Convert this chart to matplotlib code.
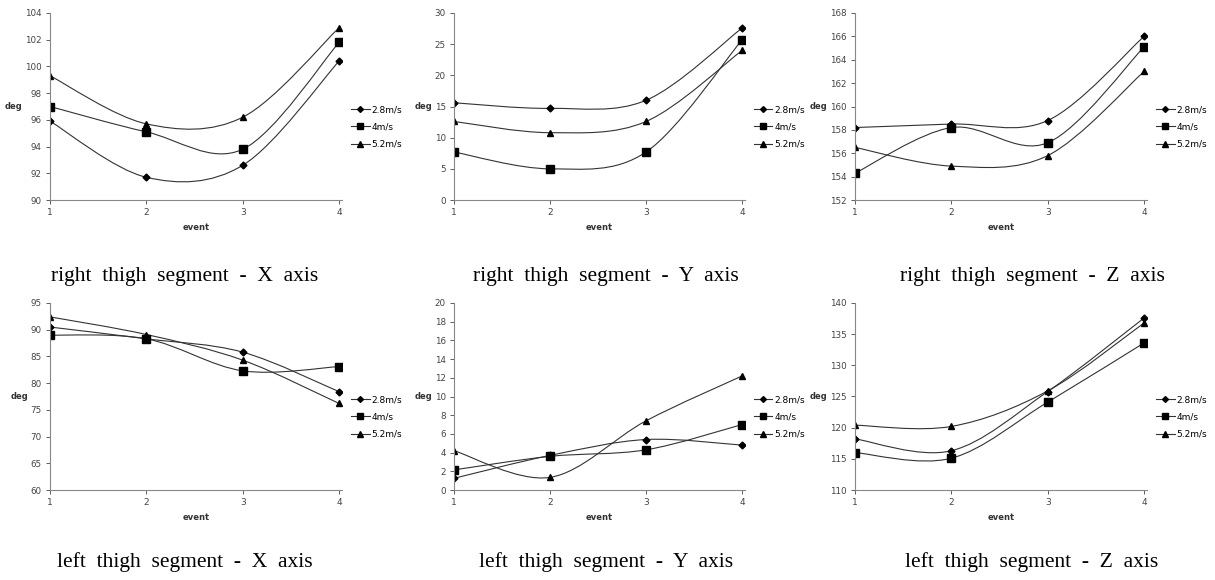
import numpy as np
import matplotlib
matplotlib.use('Agg')
import matplotlib.pyplot as plt
from matplotlib.path import Path
from matplotlib.patches import PathPatch
from matplotlib.lines import Line2D

events = [1, 2, 3, 4]
speeds = ['2.8m/s', '4m/s', '5.2m/s']
markers = ['D', 's', '^']
msizes = [3.5, 5.5, 5]

# right thigh
rx = [[95.9, 91.7, 92.6, 100.4], [97.0, 95.1, 93.8, 101.8], [99.3, 95.7, 96.2, 102.9]]
ry = [[15.6, 14.7, 16.0, 27.6], [7.7, 5.0, 7.7, 25.7], [12.6, 10.8, 12.6, 24.0]]
rz = [[158.2, 158.5, 158.8, 166.0], [154.3, 158.2, 156.9, 165.1], [156.5, 154.9, 155.8, 163.0]]
# left thigh
lx = [[90.5, 88.3, 85.8, 78.4], [89.0, 88.3, 82.3, 83.1], [92.4, 89.1, 84.3, 76.2]]
ly = [[1.25, 3.7, 5.4, 4.8], [2.15, 3.6, 4.3, 7.0], [4.2, 1.35, 7.4, 12.2]]
lz = [[118.2, 116.3, 125.8, 137.6], [116.0, 115.1, 124.1, 133.6], [120.4, 120.2, 125.9, 136.8]]

panels = [
    (rx, (90, 104, 2), 'right  thigh  segment  -  X  axis'),
    (ry, (0, 30, 5), 'right  thigh  segment  -  Y  axis'),
    (rz, (152, 168, 2), 'right  thigh  segment  -  Z  axis'),
    (lx, (60, 95, 5), 'left  thigh  segment  -  X  axis'),
    (ly, (0, 20, 2), 'left  thigh  segment  -  Y  axis'),
    (lz, (110, 140, 5), 'left  thigh  segment  -  Z  axis'),
]

lefts = [50, 454, 855]
widths = [292, 291, 292]
tops = [13, 303]
ax_h = 187
cap_x = [185, 606, 1032]
cap_y = [281, 567]
W, H = 1215, 580


def smooth_path(xs, ys):
    # Excel-style smoothed line as cubic bezier segments
    pts = np.column_stack([xs, ys]).astype(float)
    n = len(pts)
    verts = [pts[0]]
    codes = [Path.MOVETO]
    for i in range(n - 1):
        p0 = pts[i - 1] if i > 0 else pts[i]
        p1 = pts[i]
        p2 = pts[i + 1]
        p3 = pts[i + 2] if i + 2 < n else pts[i + 1]
        c1 = p1 + (p2 - p0) / 6.0
        c2 = p2 - (p3 - p1) / 6.0
        verts += [c1, c2, p2]
        codes += [Path.CURVE4] * 3
    return Path(verts, codes)


fig = plt.figure(figsize=(12.15, 5.8), dpi=100)

for k, (data, (y0, y1, step), caption) in enumerate(panels):
    row, col = divmod(k, 3)
    ax = fig.add_axes([lefts[col] / W, 1 - (tops[row] + ax_h) / H, widths[col] / W, ax_h / H])
    for s in range(3):
        ax.add_patch(PathPatch(smooth_path(events, data[s]), fill=False, edgecolor='#333333', lw=0.8))
        ax.plot(events, data[s], linestyle='none', marker=markers[s], ms=msizes[s], color='black')
    ax.set_xlim(1, 4.03)
    ax.set_ylim(y0, y1)
    ax.set_xticks(events)
    ax.set_yticks(np.arange(y0, y1 + step / 2, step))
    for side in ['top', 'right']:
        ax.spines[side].set_visible(False)
    for side in ['left', 'bottom']:
        ax.spines[side].set_color('#888888')
        ax.spines[side].set_linewidth(0.8)
    ax.tick_params(labelsize=6.3, colors='#444444', length=3, width=0.6, pad=3)
    ax.tick_params(axis='x', labelsize=6.5)
    ax.set_xlabel('event', fontsize=6, fontweight='bold', color='#333333', labelpad=4)
    ax.set_ylabel('deg', fontsize=6, fontweight='bold', color='#333333', rotation=0, labelpad=8, va='center')
    handles = [Line2D([0], [0], color='#333333', lw=0.8, marker=markers[s], ms=msizes[s] * 0.85,
                      markerfacecolor='black', markeredgecolor='black') for s in range(3)]
    ax.legend(handles, speeds, loc='center left', bbox_to_anchor=(1.02, 0.39), frameon=False,
              fontsize=6.5, handlelength=2.0, handletextpad=0.2, labelspacing=0.9, borderaxespad=0)
    fig.text(cap_x[col] / W, 1 - cap_y[row] / H, caption, ha='center', va='baseline',
             family='Liberation Serif', fontsize=15.5)

fig.savefig('out.png', dpi=100)
